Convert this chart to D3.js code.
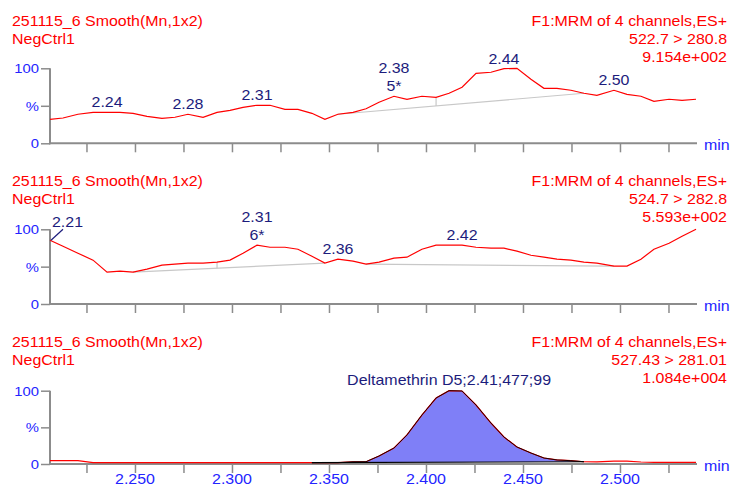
<!DOCTYPE html>
<html>
<head>
<meta charset="utf-8">
<script src="https://cdn.jsdelivr.net/npm/d3@7"></script>
<style>
  body { margin: 0; background: #fff; }
  text { font-family: "Liberation Sans", Arial, sans-serif; }
</style>
</head>
<body>
<svg id="chart" width="734" height="486"></svg>
<script>
// retention times (min), shared by the three channels
var rt = [2.2062,2.2129,2.2206,2.2284,2.2356,2.2423,2.2490,2.2562,2.2639,2.2706,2.2773,2.2851,2.2923,2.2990,2.3057,2.3129,
  2.3196,2.3273,2.3340,2.3412,2.3479,2.3546,2.3624,2.3691,2.3758,2.3835,2.3902,2.3979,2.4052,2.4119,2.4186,2.4258,
  2.4335,2.4402,2.4469,2.4541,2.4608,2.4675,2.4747,2.4814,2.4881,2.4969,2.5036,2.5108,2.5175,2.5253,2.5320,2.5392];

// relative intensity (%) per channel
var ch1 = [32,33.7,38.7,41.3,41.3,41.3,40,36,33.3,34.7,38.7,34.7,41.3,44,48,50.7,50.7,45.3,45.3,40,32,38.7,41.3,46,
  54.7,62.7,58.7,62.7,61.3,66.7,74.7,93.3,94.7,99.5,100,85.3,73.3,73.3,70.7,66.7,64,70.7,65.3,62.7,56,58.7,57.3,58.7];
var ch2 = [85.3,77.3,68,58.7,42.7,44,42.7,46.7,52,53.3,54.7,54.7,56,58.7,68,78.7,76,76,73.3,64,54.7,60,57.3,53.3,
  56,61.3,62.7,73.3,78.7,78.7,78.7,76,74.7,74.7,70.7,65.3,62.7,60,58.7,56,54.7,50.7,50.7,60,73.3,81.3,90.7,100];
var ch3 = [4.5,4.5,4.5,1.8,1.8,1.8,1.8,1.8,1.8,1.8,1.8,1.8,1.8,1.8,1.8,1.8,1.8,1.8,1.8,1.8,1.8,1.8,3,3.1,
  10.9,21.8,39.6,66.8,90,100,99.6,80.5,55.9,36.8,23.2,15,8.2,5.5,4.5,3.1,3,3.8,3.8,2.7,2.3,2.3,2.3,2.3];

var title1 = "251115_6 Smooth(Mn,1x2)";
var title2 = "NegCtrl1";
var funcLine = "F1:MRM of 4 channels,ES+";
var channels = ["522.7 > 280.8", "524.7 > 282.8", "527.43 > 281.01"];
var maxInt = ["9.154e+002", "5.593e+002", "1.084e+004"];

// peak labels: index into rt, label text, optional second line
var peaks1 = [[4,"2.24"],[10,"2.28"],[15,"2.31"],[25,"2.38","5*"],[33,"2.44"],[41,"2.50"]];
var peaks2 = [[15,"2.31","6*"],[21,"2.36"],[30,"2.42"]];
var lead2 = [0,"2.21"];
var peak3 = [29,"Deltamethrin D5;2.41;477;99"];

// integration baselines [start index, end index] and drop lines
var base1 = [[21,39]], drops1 = [28];
var base2 = [[6,20],[23,41]], drops2 = [12];
var base3 = [19,39];

var yTickVals = [0,50,100], yTickLabels = ["0","%","100"];
var xTickLabels = ["2.250","2.300","2.350","2.400","2.450","2.500"];

var SX = 1.14;
var red = "#ff0000", navy = "#1c1c7c", blue = "#2424ff", grey = "#8c8c8c";

var svg = d3.select("#chart");
var x = d3.scaleLinear().domain([2.2062, 2.5397]).range([50, 697]);

function txt(g, px, py, s, anchor, fill, size){
  return g.append("text")
    .attr("transform", "translate(" + px + "," + py + ") scale(" + SX + ",1)")
    .attr("text-anchor", anchor)
    .attr("fill", fill)
    .style("font-size", size + "px")
    .text(s);
}

var panels = [
  {data: ch1, top: 68.3, bot: 143.3, ty: 26},
  {data: ch2, top: 229.3, bot: 304, ty: 186},
  {data: ch3, top: 390.7, bot: 464, ty: 347}
];

panels.forEach(function(p, k){
  var g = svg.append("g");
  var y = d3.scaleLinear().domain([0,100]).range([p.bot, p.top]);
  p.y = y;

  // header text
  txt(g, 12, p.ty, title1, "start", red, 14);
  txt(g, 12, p.ty + 18, title2, "start", red, 14);
  txt(g, 727, p.ty, funcLine, "end", red, 14);
  txt(g, 727, p.ty + 18, channels[k], "end", red, 14);
  txt(g, 727, p.ty + 36, maxInt[k], "end", red, 14);

  // y axis
  var ya = g.append("g").attr("transform", "translate(50,0)");
  ya.call(d3.axisLeft(y).tickValues(d3.range(0,101,10)).tickSize(4).tickFormat(""));
  ya.call(d3.axisLeft(y).tickValues(yTickVals).tickSize(9).tickFormat(""));
  ya.selectAll("path.domain").remove();
  ya.selectAll("line").attr("stroke", grey).attr("stroke-width", 1.5);
  yTickVals.forEach(function(v, i){
    txt(g, 39, y(v) + 5, yTickLabels[i], "end", blue, 13);
  });

  // x axis
  var xa = g.append("g").attr("transform", "translate(0," + p.bot + ")");
  xa.call(d3.axisBottom(x).tickValues(d3.range(2.21, 2.5396, 0.005)).tickSize(4).tickFormat(""));
  xa.call(d3.axisBottom(x).tickValues(d3.range(2.225, 2.5396, 0.025)).tickSize(9).tickFormat(""));
  xa.selectAll("path.domain").remove();
  xa.selectAll("line").attr("stroke", grey).attr("stroke-width", 1.5);

  g.append("line").attr("x1", 50).attr("x2", 50).attr("y1", p.top).attr("y2", p.bot + 1)
    .attr("stroke", grey).attr("stroke-width", 2);
  g.append("line").attr("x1", 49).attr("x2", 697).attr("y1", p.bot).attr("y2", p.bot)
    .attr("stroke", grey).attr("stroke-width", 2);
  txt(g, 704, p.bot + 7, "min", "start", blue, 14);

  if (k == 2) {
    xTickLabels.forEach(function(s){
      txt(g, x(+s), 483.5, s, "middle", blue, 14);
    });
  }
  p.g = g;
});

var line = function(y){
  return d3.line().x(function(d){ return x(d[0]); }).y(function(d){ return y(d[1]); });
};
function pts(vals, a, b){
  var out = [];
  for (var i = (a || 0); i <= (b == null ? vals.length - 1 : b); i++) out.push([rt[i], vals[i]]);
  return out;
}

function baselines(p, bases, drops){
  bases.forEach(function(b){
    p.g.append("line")
      .attr("x1", x(rt[b[0]])).attr("y1", p.y(p.data[b[0]]))
      .attr("x2", x(rt[b[1]])).attr("y2", p.y(p.data[b[1]]))
      .attr("stroke", "#c8c8c8").attr("stroke-width", 1.2);
  });
  drops.forEach(function(i){
    var b = bases.filter(function(b){ return i > b[0] && i < b[1]; })[0];
    var f = (rt[i] - rt[b[0]]) / (rt[b[1]] - rt[b[0]]);
    var bv = p.data[b[0]] + f * (p.data[b[1]] - p.data[b[0]]);
    p.g.append("line")
      .attr("x1", x(rt[i])).attr("x2", x(rt[i]))
      .attr("y1", p.y(p.data[i])).attr("y2", p.y(bv))
      .attr("stroke", "#c8c8c8").attr("stroke-width", 1.2);
  });
}

function peakLabels(p, list){
  list.forEach(function(d){
    var px = x(rt[d[0]]), py = p.y(p.data[d[0]]) - 5;
    if (d[2]) {
      txt(p.g, px, py, d[2], "middle", navy, 14);
      txt(p.g, px, py - 18, d[1], "middle", navy, 14);
    } else {
      txt(p.g, px, py, d[1], "middle", navy, 14);
    }
  });
}

// panel 1
baselines(panels[0], base1, drops1);
panels[0].g.append("path").datum(pts(ch1)).attr("d", line(panels[0].y))
  .attr("fill", "none").attr("stroke", red).attr("stroke-width", 1.2);
peakLabels(panels[0], peaks1);

// panel 2
baselines(panels[1], base2, drops2);
panels[1].g.append("path").datum(pts(ch2)).attr("d", line(panels[1].y))
  .attr("fill", "none").attr("stroke", red).attr("stroke-width", 1.2);
peakLabels(panels[1], peaks2);
var lx = x(rt[lead2[0]]), ly = panels[1].y(ch2[lead2[0]]);
panels[1].g.append("line").attr("x1", lx + 1).attr("y1", ly).attr("x2", lx + 13).attr("y2", ly - 11)
  .attr("stroke", navy).attr("stroke-width", 1.2);
txt(panels[1].g, lx + 2, ly - 13, lead2[1], "start", navy, 14);

// panel 3 with integrated peak
var p3 = panels[2];
var b0 = base3[0], b1 = base3[1];
var baseAt = function(t){
  return ch3[b0] + (t - rt[b0]) / (rt[b1] - rt[b0]) * (ch3[b1] - ch3[b0]);
};
p3.g.append("path").datum(pts(ch3, b0, b1))
  .attr("d", d3.area()
    .x(function(d){ return x(d[0]); })
    .y0(function(d){ return p3.y(baseAt(d[0])); })
    .y1(function(d){ return p3.y(Math.max(d[1], baseAt(d[0]))); }))
  .attr("fill", "#7f7ff7");
p3.g.append("path").datum(pts(ch3)).attr("d", line(p3.y))
  .attr("fill", "none").attr("stroke", red).attr("stroke-width", 1.2);
p3.g.append("path").datum(pts(ch3, b0, b1)).attr("d", line(p3.y))
  .attr("fill", "none").attr("stroke", "#1a0000").attr("stroke-width", 1);
p3.g.append("line")
  .attr("x1", x(rt[b0])).attr("y1", p3.y(ch3[b0]))
  .attr("x2", x(rt[b1])).attr("y2", p3.y(ch3[b1]))
  .attr("stroke", "#000").attr("stroke-width", 1.2);
txt(p3.g, x(rt[peak3[0]]), p3.y(ch3[peak3[0]]) - 5.5, peak3[1], "middle", navy, 14);
</script>
</body>
</html>
